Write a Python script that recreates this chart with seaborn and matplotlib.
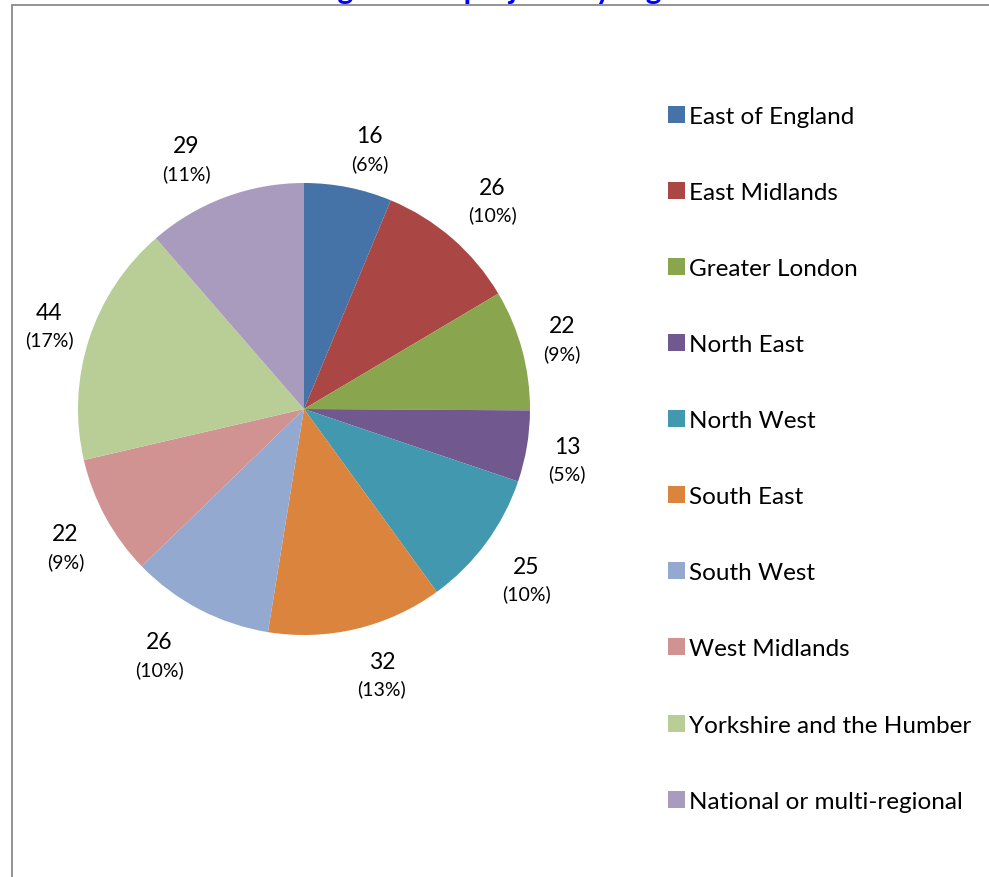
import numpy as np
import matplotlib
matplotlib.use("Agg")
import matplotlib.pyplot as plt
from matplotlib.patches import Patch, Rectangle
import seaborn as sns

regions = [
    "East of England", "East Midlands", "Greater London", "North East",
    "North West", "South East", "South West", "West Midlands",
    "Yorkshire and the Humber", "National or multi-regional",
]
projects = [16, 26, 22, 13, 25, 32, 26, 22, 44, 29]
colors = [
    "#4572A7", "#AA4643", "#89A54E", "#71588F", "#4198AF",
    "#DB843D", "#93A9CF", "#D19392", "#B9CD96", "#A99BBD",
]
title = "Number of grants to projects by region"

sns.set_theme(style="white")
plt.rcParams["font.family"] = ["Lato", "DejaVu Sans"]
plt.rcParams["text.color"] = "black"
palette = sns.color_palette(colors)

W, H = 989, 878
fig = plt.figure(figsize=(W / 100, H / 100), dpi=100)

# chart frame
fig.patches.append(Rectangle((12 / W, -0.05), 1.2, 1 - 5.5 / H + 0.05,
                             transform=fig.transFigure, fill=False,
                             edgecolor="#8a8a8a", linewidth=1.3))

# title sits above the frame, mostly outside the canvas
fig.text(0.45, 1 + 1.0 / H, title, ha="center", va="baseline",
         fontsize=21.5, fontweight="bold", color="#0000FF")

# pie: centre (304, 410) px, radius 226 px
cx, cy, R = 304, 410, 226
ax = fig.add_axes([(cx - R) / W, (H - cy - R) / H, 2 * R / W, 2 * R / H])
wedges, _ = ax.pie(projects, colors=palette, startangle=90, counterclock=False,
                   radius=1, wedgeprops=dict(linewidth=0))
ax.set_xlim(-1, 1)
ax.set_ylim(-1, 1)
ax.set_aspect("equal")
ax.axis("off")

# "outside end" labels: the label box sits next to the rim point of each wedge
total = sum(projects)
for w, v in zip(wedges, projects):
    ang = np.deg2rad((w.theta1 + w.theta2) / 2)
    c, s = np.cos(ang), np.sin(ang)
    dx = np.sign(c) * min(40, 110 * abs(c))
    dy = np.sign(s) * min(42, 55 * abs(s)) - 4
    x, y = c + dx / R, s + dy / R
    ax.text(x, y + 13.5 / R, f"{v}", ha="center", va="center",
            fontsize=16.5, color="black", clip_on=False)
    ax.text(x, y - 13.5 / R, f"({v / total:.0%})", ha="center", va="center",
            fontsize=14, color="black", clip_on=False)

handles = [Patch(facecolor=col, edgecolor="none") for col in palette]
fig.legend(handles, regions, loc="upper left",
           bbox_to_anchor=(668 / W, 1 - 107 / H), frameon=False,
           fontsize=17.5, labelspacing=2.265, handlelength=0.7,
           handleheight=0.7, handletextpad=0.17, borderpad=0,
           borderaxespad=0, labelcolor="black")

fig.savefig("out.png", dpi=100, facecolor="white")
